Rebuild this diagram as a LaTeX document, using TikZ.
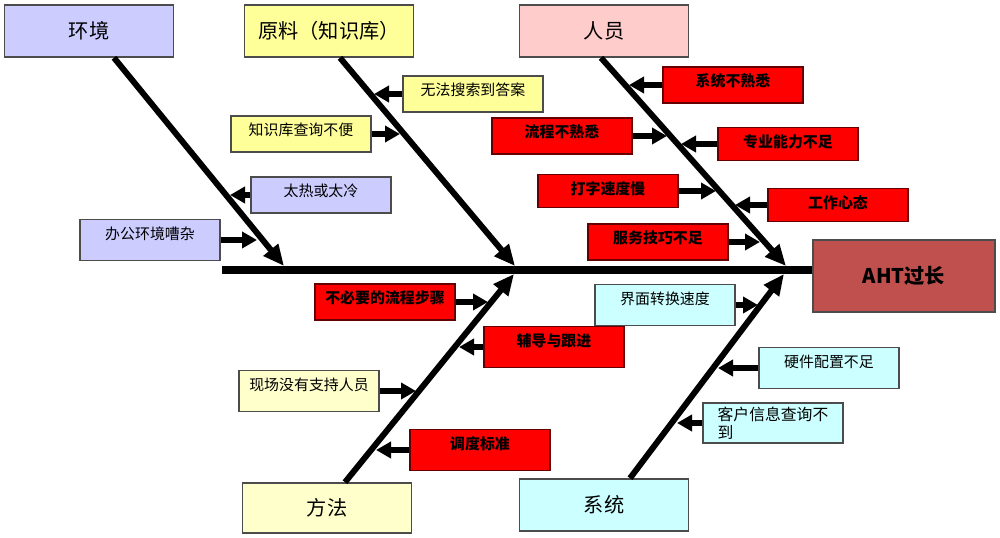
\documentclass[tikz,border=0pt]{standalone}
\usepackage{fontspec}
\newfontfamily\cjk{Noto Sans CJK SC}
\usetikzlibrary{arrows.meta}
\definecolor{envfill}{HTML}{CCCCFF}
\definecolor{matfill}{HTML}{FFFF99}
\definecolor{pplfill}{HTML}{FFCCCC}
\definecolor{mthfill}{HTML}{FFFFCC}
\definecolor{sysfill}{HTML}{CCFFFF}
\definecolor{ahtfill}{HTML}{C0504D}
\tikzset{
    cat/.style = {rectangle, draw=black!70, line width=0.9pt, minimum width=33.8mm, minimum height=10.4mm, font=\cjk\fontsize{11.5}{13}\selectfont},
    effect/.style = {rectangle, draw=black!70, line width=0.9pt, fill=ahtfill, minimum width=36.4mm, minimum height=14.4mm, font=\cjk\bfseries\fontsize{11.5}{13}\selectfont},
    cause/.style = {rectangle, draw=black!70, line width=0.9pt, minimum width=28mm, inner ysep=1mm, text height=3mm, text depth=2.2mm, font=\cjk\fontsize{8.5}{10}\selectfont},
    causer/.style = {cause, fill=red, draw=red!40!black, font=\cjk\bfseries\fontsize{8.5}{10}\selectfont},
    tall/.style = {text depth=3.2mm},
    short/.style = {text depth=1.6mm},
    spine/.style = {line width=4pt},
    bone/.style = {line width=3.4pt, -{Triangle[length=4.2mm,width=3.6mm]}},
    twig/.style = {line width=3.2pt, -{Triangle[length=3mm,width=3.2mm]}}
}
\begin{document}
\begin{tikzpicture}[x=0.2mm,y=-0.2mm]
\useasboundingbox (0,0) rectangle (1000,538);
%
\node[cat, fill=envfill] at (89,31) (env) {环境};
\node[cat, fill=matfill] at (329,31) (mat) {原料（知识库）};
\node[cat, fill=pplfill] at (604,31) (ppl) {人员};
\node[cat, fill=mthfill, minimum height=10mm] at (327,508) (mth) {方法};
\node[cat, fill=sysfill] at (604,505) (sys) {系统};
\node[effect] at (904,276) (aht) {AHT过长};
%
\coordinate (tail) at (222,270);
\coordinate (j1) at (284,266);
\coordinate (j2) at (515,266);
\coordinate (j3) at (786,266);
\coordinate (j4) at (514,274);
\coordinate (j5) at (784,274);
\draw[spine] (tail) -- (tail -| aht.west);
\draw[bone] ([xshift=5mm]env.south) -- (j1);
\draw[bone] ([xshift=2.2mm]mat.south) -- (j2);
\draw[bone] ([xshift=-0.6mm]ppl.south) -- (j3);
\draw[bone] ([xshift=3.6mm]mth.north) -- (j4);
\draw[bone] ([xshift=5.2mm]sys.north) -- (j5);
%
\node[cause, fill=envfill] at (321,195) (hot) {太热或太冷};
\node[cause, fill=envfill, tall] at (150,240) (noise) {办公环境嘈杂};
\node[cause, fill=matfill] at (473,94) (search) {无法搜索到答案};
\node[cause, fill=matfill] at (301,134) (kbq) {知识库查询不便};
%
\node[causer] at (733,85) (sysf) {系统不熟悉};
\node[causer] at (562,136) (procf) {流程不熟悉};
\node[causer, short] at (788,144) (skill) {专业能力不足};
\node[causer, short] at (608,191) (typing) {打字速度慢};
\node[causer, short] at (838,205) (mood) {工作心态};
\node[causer] at (658,242) (service) {服务技巧不足};
%
\node[causer] at (385,302) (unnec) {不必要的流程步骤};
\node[causer, tall] at (554,347) (coach) {辅导与跟进};
\node[cause, fill=mthfill, tall] at (309,391) (onsite) {现场没有支持人员};
\node[causer, tall] at (480,450) (std) {调度标准};
%
\node[cause, fill=sysfill, tall] at (665,305) (ui) {界面转换速度};
\node[cause, fill=sysfill, tall] at (829,368) (hw) {硬件配置不足};
\node[rectangle, draw=black!70, line width=0.9pt, fill=sysfill, minimum width=28mm, minimum height=8mm, inner ysep=0pt, align=left, font=\cjk\fontsize{9}{10}\selectfont] at (773,423) (cust) {客户信息查询不\\到};
%
\coordinate (hot-t) at (230,195);
\coordinate (noise-t) at (257,240);
\coordinate (search-t) at (374,94);
\coordinate (kbq-t) at (400,134);
\coordinate (sysf-t) at (629,85);
\coordinate (procf-t) at (667,136);
\coordinate (skill-t) at (681,144);
\coordinate (typing-t) at (716,191);
\coordinate (mood-t) at (735,205);
\coordinate (service-t) at (760,242);
\coordinate (unnec-t) at (488,302);
\coordinate (coach-t) at (459,347);
\coordinate (onsite-t) at (416,391);
\coordinate (std-t) at (376,450);
\coordinate (ui-t) at (758,305);
\coordinate (hw-t) at (718,368);
\coordinate (cust-t) at (677,423);
%
\draw[twig] (hot) edge (hot-t);
\draw[twig] (noise) edge (noise-t);
\draw[twig] (search) edge (search-t);
\draw[twig] (kbq) edge (kbq-t);
\draw[twig] (sysf) edge (sysf-t);
\draw[twig] (procf) edge (procf-t);
\draw[twig] (skill) edge (skill-t);
\draw[twig] (typing) edge (typing-t);
\draw[twig] (mood) edge (mood-t);
\draw[twig] (service) edge (service-t);
\draw[twig] (unnec) edge (unnec-t);
\draw[twig] (coach) edge (coach-t);
\draw[twig] (onsite) edge (onsite-t);
\draw[twig] (std) edge (std-t);
\draw[twig] (ui) edge (ui-t);
\draw[twig] (hw) edge (hw-t);
\draw[twig] (cust) edge (cust-t);

\end{tikzpicture}
\end{document}
